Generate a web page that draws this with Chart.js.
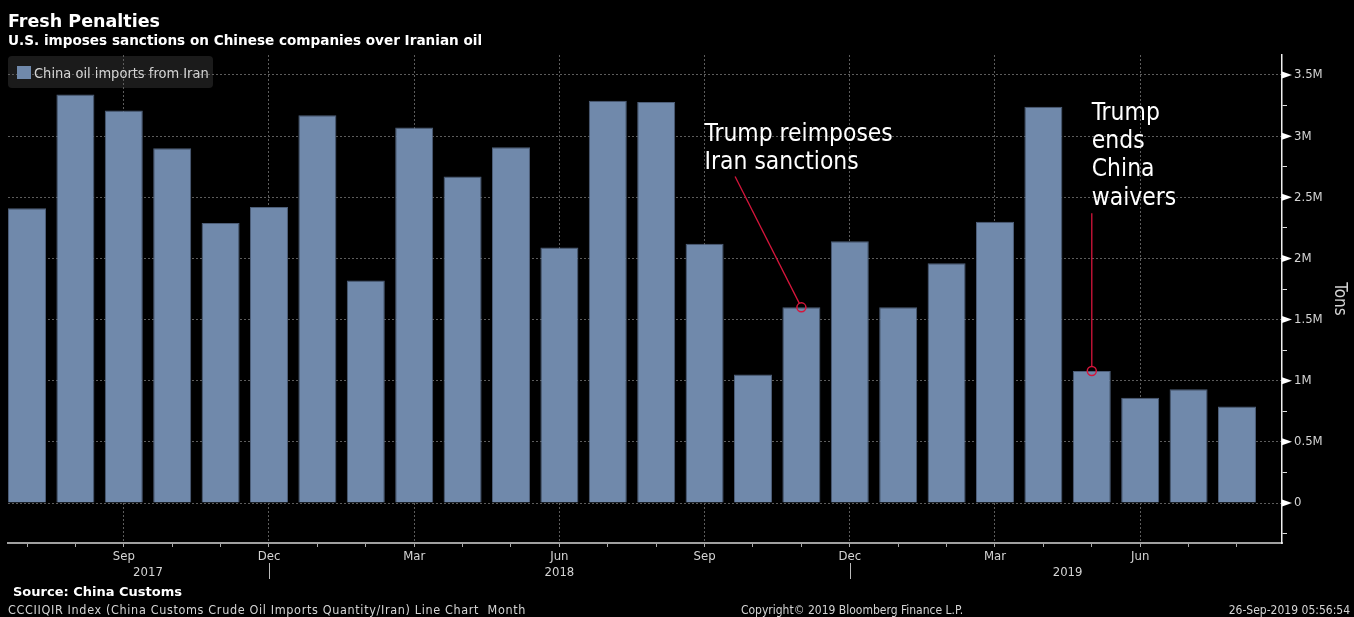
<!DOCTYPE html>
<html>
<head>
<meta charset="utf-8">
<script src="https://cdn.jsdelivr.net/npm/chart.js@4.4.1/dist/chart.umd.min.js"></script>
<style>
  html, body { margin: 0; padding: 0; background: #000; }
  #wrap { position: relative; width: 1354px; height: 617px; }
</style>
</head>
<body>
<div id="wrap"><canvas id="chart"></canvas></div>
<script>
// monthly data, Jul 2017 .. Aug 2019 (tons)
const months = ['Jul', 'Aug', 'Sep', 'Oct', 'Nov', 'Dec', 'Jan', 'Feb', 'Mar', 'Apr', 'May', 'Jun',
    'Jul', 'Aug', 'Sep', 'Oct', 'Nov', 'Dec', 'Jan', 'Feb', 'Mar', 'Apr', 'May', 'Jun',
    'Jul', 'Aug'];
const imports = [2410000, 3340000, 3210000, 2900000, 2290000, 2420000, 3170000, 1820000, 3070000, 2670000, 2910000, 2090000,
    3290000, 3280000, 2120000, 1050000, 1600000, 2140000, 1600000, 1960000, 2300000, 3240000, 1080000, 860000,
    930000, 790000];
const seriesName = 'China oil imports from Iran';

// axis labels
const shownMonths = ['Sep', 'Dec', 'Mar', 'Jun'];
const years = ['2017', '2018', '2019'];
const yearBreaks = [5, 17];   // Dec 2017, Dec 2018
const yTicks = [0, 500000, 1000000, 1500000, 2000000, 2500000, 3000000, 3500000];
const yTickLabels = ['0', '0.5M', '1M', '1.5M', '2M', '2.5M', '3M', '3.5M'];

// annotations (data coordinates)
const notes = [
    { lines: ['Trump reimposes', 'Iran sanctions'], tx: 14.0, ty: 2960000, lx: 14.63, ly: 2670000, at: 16 },
    { lines: ['Trump', 'ends', 'China', 'waivers'], tx: 22.0, ty: 3135000, lx: 22.0, ly: 2370000, at: 22 }
];

const barColor = '#7089ab';
const gridColor = '#5c5c5c';
const textColor = '#d4d4d4';
const noteRed = '#d6163c';
const condensed = "'DejaVu Sans Condensed', 'DejaVu Sans', sans-serif";
const wide = "'DejaVu Sans', sans-serif";

const canvas = document.getElementById('chart');
canvas.width = 1354;
canvas.height = 617;

// 補助ティック（0.25M刻み）
function allYTicks() {
    const out = [{ value: -250000 }];
    yTicks.forEach((v, i) => {
        out.push({ value: v });
        if (i < yTicks.length - 1) out.push({ value: (v + yTicks[i + 1]) / 2 });
    });
    return out;
}

const decorPlugin = {
    id: 'decor',
    beforeDraw(chart) {
        const ctx = chart.ctx;
        ctx.save();
        ctx.fillStyle = '#000';
        ctx.fillRect(0, 0, chart.width, chart.height);
        // legend box (grid shows through it)
        ctx.fillStyle = '#1b1b1b';
        ctx.beginPath();
        ctx.roundRect(8, 56, 205, 32, 4);
        ctx.fill();
        ctx.restore();
    },
    afterDraw(chart) {
        const ctx = chart.ctx;
        const x = chart.scales.x;
        const y = chart.scales.y;
        ctx.save();

        // titles
        ctx.fillStyle = '#fff';
        ctx.textBaseline = 'alphabetic';
        ctx.font = "bold 17.5px " + wide;
        ctx.fillText('Fresh Penalties', 8, 27);
        ctx.font = "bold 13.6px " + wide;
        ctx.fillText('U.S. imposes sanctions on Chinese companies over Iranian oil', 8, 45);

        // legend
        ctx.fillStyle = barColor;
        ctx.fillRect(17, 66, 14, 13);
        ctx.fillStyle = textColor;
        ctx.font = "14.5px " + condensed;
        ctx.fillText(seriesName, 34, 78);

        // y axis arrow ticks
        ctx.fillStyle = '#fff';
        yTicks.forEach(v => {
            const py = y.getPixelForValue(v);
            ctx.beginPath();
            ctx.moveTo(y.left, py - 3.5);
            ctx.lineTo(y.left + 10, py);
            ctx.lineTo(y.left, py + 3.5);
            ctx.closePath();
            ctx.fill();
        });

        // year labels and separators
        ctx.strokeStyle = '#bbb';
        ctx.lineWidth = 1;
        yearBreaks.forEach(b => {
            const px = Math.round(x.getPixelForValue(b)) + 0.5;
            ctx.beginPath();
            ctx.moveTo(px, 563);
            ctx.lineTo(px, 579);
            ctx.stroke();
        });
        const bounds = [0, ...yearBreaks, months.length];
        ctx.fillStyle = textColor;
        ctx.font = "13px " + condensed;
        ctx.textAlign = 'center';
        years.forEach((yr, i) => {
            const mid = (bounds[i] + bounds[i + 1]) / 2;
            ctx.fillText(yr, x.getPixelForValue(mid), 576);
        });

        // annotations
        notes.forEach(n => {
            const cx = x.getPixelForValue(n.at);
            const cy = y.getPixelForValue(imports[n.at]);
            const sx = x.getPixelForValue(n.lx);
            const sy = y.getPixelForValue(n.ly);
            const r = 4.5;
            const d = Math.hypot(cx - sx, cy - sy);
            ctx.strokeStyle = noteRed;
            ctx.lineWidth = 1.3;
            ctx.beginPath();
            ctx.moveTo(sx, sy);
            ctx.lineTo(cx - (cx - sx) * r / d, cy - (cy - sy) * r / d);
            ctx.stroke();
            ctx.lineWidth = 1.5;
            ctx.beginPath();
            ctx.arc(cx, cy, r, 0, Math.PI * 2);
            ctx.stroke();

            ctx.fillStyle = '#fff';
            ctx.font = "24.4px " + condensed;
            ctx.textAlign = 'left';
            const tx = x.getPixelForValue(n.tx);
            const ty = y.getPixelForValue(n.ty);
            n.lines.forEach((t, i) => ctx.fillText(t, tx, ty + i * 28.3));
        });

        // footer
        ctx.fillStyle = '#fff';
        ctx.textAlign = 'left';
        ctx.font = "bold 13px " + wide;
        ctx.fillText('Source: China Customs', 13, 596);
        ctx.fillStyle = textColor;
        ctx.font = "12.5px " + condensed;
        ctx.letterSpacing = '0.65px';
        ctx.fillText('CCCIIQIR Index (China Customs Crude Oil Imports Quantity/Iran) Line Chart  Month', 8, 614);
        ctx.letterSpacing = '0px';
        ctx.font = "12px " + condensed;
        ctx.textAlign = 'center';
        ctx.fillText('Copyright\u00a9 2019 Bloomberg Finance L.P.', 852, 614);
        ctx.textAlign = 'right';
        ctx.fillText('26-Sep-2019 05:56:54', 1350, 614);
        ctx.restore();
    }
};

new Chart(canvas, {
    type: 'bar',
    data: {
        datasets: [{
            label: seriesName,
            data: imports.map((v, i) => ({ x: i, y: v })),
            backgroundColor: barColor,
            borderColor: '#4d5e78',
            borderWidth: { top: 1, left: 1, right: 1, bottom: 0 },
            categoryPercentage: 1,
            barPercentage: 0.785
        }]
    },
    options: {
        responsive: false,
        animation: false,
        events: [],
        layout: { padding: { left: 8, top: 55, right: 0, bottom: 0 } },
        plugins: {
            legend: { display: false },
            title: { display: false },
            tooltip: { enabled: false }
        },
        scales: {
            x: {
                type: 'linear',
                offset: false,
                min: -0.3926,
                max: 25.93,
                afterBuildTicks: scale => { scale.ticks = months.map((m, i) => ({ value: i })); },
                afterFit: scale => { scale.height = 74; },
                ticks: {
                    autoSkip: false,
                    maxRotation: 0,
                    padding: 2,
                    color: textColor,
                    font: { family: condensed, size: 13 },
                    callback: v => shownMonths.includes(months[v]) ? months[v] : ''
                },
                grid: {
                    offset: false,
                    color: c => (c.tick && shownMonths.includes(months[c.tick.value])) ? gridColor : 'transparent',
                    tickColor: '#aaa',
                    tickLength: 4,
                    lineWidth: 1
                },
                border: { color: '#a0a0a0', width: 2, dash: [2, 2] }
            },
            y: {
                position: 'right',
                min: -327000,
                max: 3663500,
                afterBuildTicks: scale => { scale.ticks = allYTicks(); },
                afterFit: scale => { scale.width = 72; },
                ticks: {
                    autoSkip: false,
                    padding: 7,
                    color: textColor,
                    font: { family: condensed, size: 13 },
                    callback: v => {
                        const i = yTicks.indexOf(v);
                        return i >= 0 ? yTickLabels[i] : '';
                    }
                },
                grid: {
                    color: c => (c.tick && yTicks.includes(c.tick.value)) ? gridColor : 'transparent',
                    tickColor: c => (c.tick && yTicks.includes(c.tick.value)) ? 'transparent' : '#ddd',
                    tickLength: 5,
                    lineWidth: 1
                },
                border: { color: '#eee', width: 1.5, dash: [2, 2] },
                title: {
                    display: true,
                    text: 'Tons',
                    color: textColor,
                    font: { family: condensed, size: 17 },
                    padding: { top: 4, bottom: 0 }
                }
            }
        }
    },
    plugins: [decorPlugin]
});
</script>
</body>
</html>
